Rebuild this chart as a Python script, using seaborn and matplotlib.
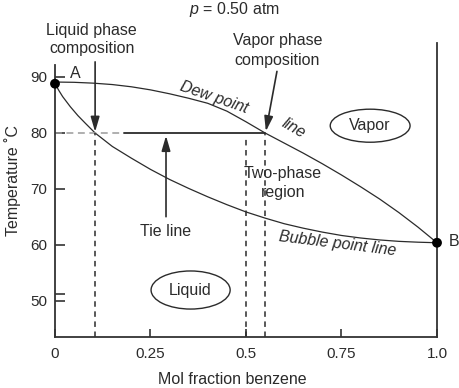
import matplotlib
matplotlib.use("Agg")
import matplotlib.pyplot as plt
from matplotlib.patches import Ellipse
import pandas as pd
import seaborn as sns

# Values (mol fraction benzene, temperature in C)
dew_x = [0.0, 0.05, 0.10, 0.15, 0.20, 0.25, 0.30, 0.35, 0.40, 0.45, 0.50, 0.55,
         0.60, 0.65, 0.70, 0.75, 0.80, 0.85, 0.90, 0.95, 1.0]
dew_t = [89.1, 89.05, 88.9, 88.65, 88.25, 87.7, 87.0, 86.2, 85.3, 83.9, 82.0, 80.0,
         78.2, 76.4, 74.5, 72.5, 70.4, 68.2, 65.8, 63.2, 60.4]

bub_x = [0.0, 0.01, 0.02, 0.04, 0.06, 0.08, 0.105, 0.15, 0.20, 0.25, 0.30, 0.35,
         0.40, 0.45, 0.50, 0.55, 0.60, 0.65, 0.70, 0.75, 0.80, 0.85, 0.90, 0.95, 1.0]
bub_t = [88.8, 87.6, 86.5, 84.7, 83.1, 81.7, 80.0, 77.6, 75.5, 73.5, 71.7, 70.1,
         68.6, 67.2, 65.9, 64.8, 63.8, 63.0, 62.3, 61.7, 61.25, 60.9, 60.65, 60.5, 60.4]

pure_x = [0.0, 1.0]
pure_t = [88.8, 60.4]
pure_names = ["A", "B"]

tie_t = 80.0
x_liquid = 0.105
x_vapor = 0.55
x_mid = 0.5

xticks = [0, 0.25, 0.5, 0.75, 1.0]
xtick_labels = ["0", "0.25", "0.5", "0.75", "1.0"]
yticks = [50, 60, 70, 80, 90]

sns.set_theme(style="white")
plt.rcParams["font.family"] = ["Liberation Sans", "DejaVu Sans"]
plt.rcParams["mathtext.fontset"] = "custom"
plt.rcParams["mathtext.it"] = "Liberation Sans:italic"
plt.rcParams["mathtext.rm"] = "Liberation Sans"

ink = "#2b2b2b"
fs = 11.5

fig = plt.figure(figsize=(4.6, 3.88), dpi=100)
ax = fig.add_axes([55 / 460, 51 / 388, 382 / 460, 294 / 388])

dew = pd.DataFrame({"x": dew_x, "t": dew_t})
bub = pd.DataFrame({"x": bub_x, "t": bub_t})
sns.lineplot(data=dew, x="x", y="t", sort=False, estimator=None, color=ink, lw=0.9, ax=ax)
sns.lineplot(data=bub, x="x", y="t", sort=False, estimator=None, color=ink, lw=0.9, ax=ax)
sns.scatterplot(x=pure_x, y=pure_t, color="black", s=50, edgecolor="none", zorder=5, ax=ax)
for coll in ax.collections:
    coll.set_clip_on(False)

ax.set_xlim(0, 1.0)
ax.set_ylim(43.57, 96.07)

# tie line: grey dashed part then solid
ax.plot([0, 0.18], [tie_t, tie_t], color="#9a9a9a", lw=1.1, dashes=(4.5, 3))
ax.plot([0.18, x_vapor], [tie_t, tie_t], color=ink, lw=1.3)
for xv, top in [(x_liquid, tie_t), (x_mid, 79.2), (x_vapor, tie_t)]:
    ax.plot([xv, xv], [43.57, top], color=ink, lw=1.1, dashes=(3.6, 3))

# ellipses
ax.add_patch(Ellipse((0.825, 81.3), 0.209, 5.9, fill=False, ec=ink, lw=1.0))
ax.add_patch(Ellipse((0.355, 51.96), 0.207, 6.8, fill=False, ec=ink, lw=1.0))
ax.text(0.825, 81.3, "Vapor", ha="center", va="center", fontsize=fs, color=ink)
ax.text(0.355, 51.96, "Liquid", ha="center", va="center", fontsize=fs, color=ink)

# arrows
arrow = dict(arrowstyle="-|>,head_length=0.75,head_width=0.22", color=ink, lw=1.2, shrinkA=0, shrinkB=0)
ax.annotate("", xy=(x_liquid, 80.2), xytext=(x_liquid, 92.7), arrowprops=arrow, annotation_clip=False)
ax.annotate("", xy=(0.552, 80.3), xytext=(0.581, 91.0), arrowprops=arrow, annotation_clip=False)
ax.annotate("", xy=(0.2906, 79.5), xytext=(0.2906, 65.05), arrowprops=arrow)

# annotations
kw = dict(fontsize=fs, color=ink, clip_on=False)
ax.text(0.4686, 101.25, "$p$ = 0.50 atm", ha="center", va="baseline", **kw)
ax.text(0.096, 97.5, "Liquid phase", ha="center", va="baseline", **kw)
ax.text(0.096, 94.23, "composition", ha="center", va="baseline", **kw)
ax.text(0.5825, 95.71, "Vapor phase", ha="center", va="baseline", **kw)
ax.text(0.5825, 92.14, "composition", ha="center", va="baseline", **kw)
ax.text(0.29, 61.6, "Tie line", ha="center", va="baseline", **kw)
ax.text(0.597, 71.9, "Two-phase", ha="center", va="baseline", **kw)
ax.text(0.597, 68.57, "region", ha="center", va="baseline", **kw)
ax.text(0.416, 86.4, "Dew point", ha="center", va="center", rotation=-19,
        rotation_mode="anchor", style="italic", **kw)
ax.text(0.625, 80.9, "line", ha="center", va="center", rotation=-30,
        rotation_mode="anchor", style="italic", **kw)
ax.text(0.74, 60.27, "Bubble point line", ha="center", va="center", rotation=-7,
        rotation_mode="anchor", style="italic", **kw)
ax.text(0.052, 90.7, pure_names[0], ha="center", va="center", **kw)
ax.text(1.045, 60.7, pure_names[1], ha="center", va="center", **kw)

# axes styling
ax.spines["top"].set_visible(False)
for side in ["left", "right", "bottom"]:
    ax.spines[side].set_color("#333333")
    ax.spines[side].set_linewidth(1.3)
ax.spines["left"].set_bounds(43.57, 92.14)

ax.set_xticks(xticks, xtick_labels)
ax.set_yticks(yticks)
ax.set_yticks([51.2], minor=True)
ax.tick_params(axis="x", direction="in", length=5.8, width=1.2, color="#333333",
               pad=7, labelsize=11, labelcolor=ink, bottom=True)
ax.tick_params(axis="y", which="both", direction="in", length=7.2, width=1.2,
               color="#333333", pad=5.5, labelsize=11, labelcolor=ink, left=True)
ax.tick_params(axis="y", which="minor", labelleft=False)

ax.set_xlabel("Mol fraction benzene", fontsize=fs, color=ink)
ax.set_ylabel("Temperature ˚C", fontsize=fs, color=ink)
ax.xaxis.set_label_coords(0.463, -0.118)
ax.yaxis.set_label_coords(-0.09, 0.534)

fig.savefig("out.png", dpi=100)
